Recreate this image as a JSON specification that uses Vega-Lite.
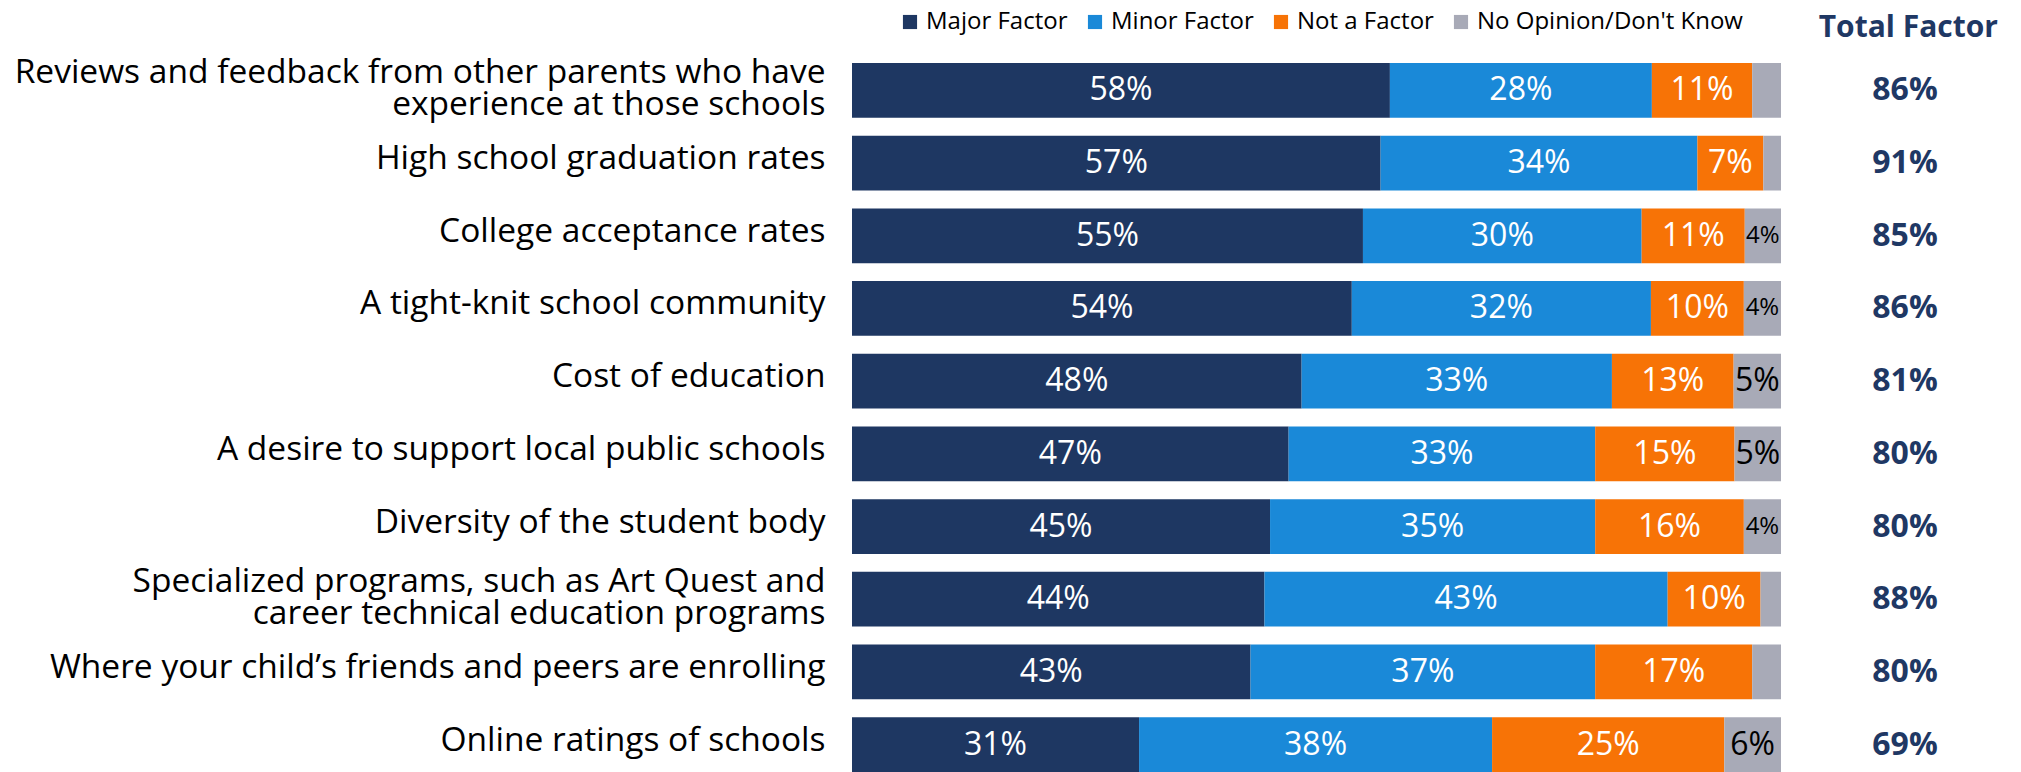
{
  "$schema": "https://vega.github.io/schema/vega-lite/v6.json",
  "width": 929,
  "height": 709,
  "autosize": {"type": "none"},
  "padding": {"left": 852, "top": 63, "right": 240, "bottom": 0},
  "background": "white",
  "config": {"view": {"stroke": null}, "font": "Open Sans"},
  "title": {"text": "Total Factor", "anchor": "end", "frame": "group", "dx": 217, "offset": -33, "fontSize": 30, "fontWeight": "bold", "color": "#1F3864", "font": "Open Sans"},
  "datasets": {
    "shares": [
      {"item": "Reviews and feedback from other parents who have\nexperience at those schools", "response": "Major Factor", "value": 0.579},
      {"item": "Reviews and feedback from other parents who have\nexperience at those schools", "response": "Minor Factor", "value": 0.282},
      {"item": "Reviews and feedback from other parents who have\nexperience at those schools", "response": "Not a Factor", "value": 0.108},
      {"item": "Reviews and feedback from other parents who have\nexperience at those schools", "response": "No Opinion/Don't Know", "value": 0.031},
      {"item": "High school graduation rates", "response": "Major Factor", "value": 0.569},
      {"item": "High school graduation rates", "response": "Minor Factor", "value": 0.341},
      {"item": "High school graduation rates", "response": "Not a Factor", "value": 0.071},
      {"item": "High school graduation rates", "response": "No Opinion/Don't Know", "value": 0.019},
      {"item": "College acceptance rates", "response": "Major Factor", "value": 0.55},
      {"item": "College acceptance rates", "response": "Minor Factor", "value": 0.30},
      {"item": "College acceptance rates", "response": "Not a Factor", "value": 0.111},
      {"item": "College acceptance rates", "response": "No Opinion/Don't Know", "value": 0.039},
      {"item": "A tight-knit school community", "response": "Major Factor", "value": 0.538},
      {"item": "A tight-knit school community", "response": "Minor Factor", "value": 0.322},
      {"item": "A tight-knit school community", "response": "Not a Factor", "value": 0.10},
      {"item": "A tight-knit school community", "response": "No Opinion/Don't Know", "value": 0.04},
      {"item": "Cost of education", "response": "Major Factor", "value": 0.484},
      {"item": "Cost of education", "response": "Minor Factor", "value": 0.334},
      {"item": "Cost of education", "response": "Not a Factor", "value": 0.131},
      {"item": "Cost of education", "response": "No Opinion/Don't Know", "value": 0.051},
      {"item": "A desire to support local public schools", "response": "Major Factor", "value": 0.47},
      {"item": "A desire to support local public schools", "response": "Minor Factor", "value": 0.33},
      {"item": "A desire to support local public schools", "response": "Not a Factor", "value": 0.15},
      {"item": "A desire to support local public schools", "response": "No Opinion/Don't Know", "value": 0.05},
      {"item": "Diversity of the student body", "response": "Major Factor", "value": 0.45},
      {"item": "Diversity of the student body", "response": "Minor Factor", "value": 0.35},
      {"item": "Diversity of the student body", "response": "Not a Factor", "value": 0.16},
      {"item": "Diversity of the student body", "response": "No Opinion/Don't Know", "value": 0.04},
      {"item": "Specialized programs, such as Art Quest and\ncareer technical education programs", "response": "Major Factor", "value": 0.444},
      {"item": "Specialized programs, such as Art Quest and\ncareer technical education programs", "response": "Minor Factor", "value": 0.434},
      {"item": "Specialized programs, such as Art Quest and\ncareer technical education programs", "response": "Not a Factor", "value": 0.10},
      {"item": "Specialized programs, such as Art Quest and\ncareer technical education programs", "response": "No Opinion/Don't Know", "value": 0.022},
      {"item": "Where your child’s friends and peers are enrolling", "response": "Major Factor", "value": 0.429},
      {"item": "Where your child’s friends and peers are enrolling", "response": "Minor Factor", "value": 0.371},
      {"item": "Where your child’s friends and peers are enrolling", "response": "Not a Factor", "value": 0.169},
      {"item": "Where your child’s friends and peers are enrolling", "response": "No Opinion/Don't Know", "value": 0.031},
      {"item": "Online ratings of schools", "response": "Major Factor", "value": 0.309},
      {"item": "Online ratings of schools", "response": "Minor Factor", "value": 0.38},
      {"item": "Online ratings of schools", "response": "Not a Factor", "value": 0.25},
      {"item": "Online ratings of schools", "response": "No Opinion/Don't Know", "value": 0.061}
    ],
    "totals": [
      {"item": "Reviews and feedback from other parents who have\nexperience at those schools", "total": 0.86},
      {"item": "High school graduation rates", "total": 0.91},
      {"item": "College acceptance rates", "total": 0.85},
      {"item": "A tight-knit school community", "total": 0.86},
      {"item": "Cost of education", "total": 0.81},
      {"item": "A desire to support local public schools", "total": 0.80},
      {"item": "Diversity of the student body", "total": 0.80},
      {"item": "Specialized programs, such as Art Quest and\ncareer technical education programs", "total": 0.88},
      {"item": "Where your child’s friends and peers are enrolling", "total": 0.80},
      {"item": "Online ratings of schools", "total": 0.69}
    ]
  },
  "layer": [
    {
      "data": {"name": "shares"},
      "transform": [
        {"calculate": "indexof(['Major Factor','Minor Factor','Not a Factor','No Opinion/Don\\'t Know'], datum.response)", "as": "ord"},
        {"stack": "value", "groupby": ["item"], "sort": [{"field": "ord", "order": "ascending"}], "as": ["v0", "v1"]}
      ],
      "layer": [
        {
          "mark": {"type": "bar"},
          "encoding": {
            "y": {"field": "item", "type": "nominal", "sort": null,
                  "scale": {"paddingInner": 0.247, "paddingOuter": 0},
                  "axis": {"title": null, "domain": false, "ticks": false, "grid": false, "labelFontSize": 33.5, "labelFont": "Open Sans", "labelColor": "#000000", "labelPadding": 27, "labelLimit": 0, "labelLineHeight": 32, "labelExpr": "split(datum.label, '\\n')",
                           "labelOffset": {"condition": {"test": "indexof(datum.value, '\\n') >= 0", "value": -17}, "value": -4}}},
            "x": {"field": "v0", "type": "quantitative", "scale": {"domain": [0, 1]}, "axis": null},
            "x2": {"field": "v1"},
            "color": {"field": "response", "type": "nominal",
                      "scale": {"domain": ["Major Factor", "Minor Factor", "Not a Factor", "No Opinion/Don't Know"], "range": ["#1E3762", "#1A89D8", "#F77306", "#A8AAB7"]},
                      "legend": {"orient": "none", "legendX": 46, "legendY": -53, "direction": "horizontal", "title": null, "symbolType": "square", "symbolSize": 200, "symbolStrokeWidth": 0, "labelFontSize": 24, "labelFont": "Open Sans", "labelColor": "#000000", "labelLimit": 0, "columnPadding": 15, "labelOffset": 4}}
          }
        },
        {
          "transform": [
            {"filter": "datum.value >= 0.035"},
            {"calculate": "(datum.v0 + datum.v1) / 2", "as": "mid"}
          ],
          "mark": {"type": "text", "font": "Open Sans", "baseline": "middle", "align": "center"},
          "encoding": {
            "y": {"field": "item", "type": "nominal", "sort": null},
            "x": {"field": "mid", "type": "quantitative"},
            "text": {"field": "value", "type": "quantitative", "format": ".0%"},
            "color": {"condition": {"test": "datum.response === \"No Opinion/Don't Know\"", "value": "#000000"}, "value": "#FFFFFF"},
            "size": {"condition": {"test": "datum.value < 0.045", "value": 24}, "value": 32}
          }
        }
      ]
    },
    {
      "data": {"name": "totals"},
      "mark": {"type": "text", "font": "Open Sans", "fontWeight": "bold", "color": "#1F3864", "fontSize": 32, "baseline": "middle", "align": "center"},
      "encoding": {
        "y": {"field": "item", "type": "nominal", "sort": null},
        "x": {"datum": 1.1335, "type": "quantitative", "scale": {"domain": [0, 1]}},
        "text": {"field": "total", "type": "quantitative", "format": ".0%"}
      }
    }
  ]
}
